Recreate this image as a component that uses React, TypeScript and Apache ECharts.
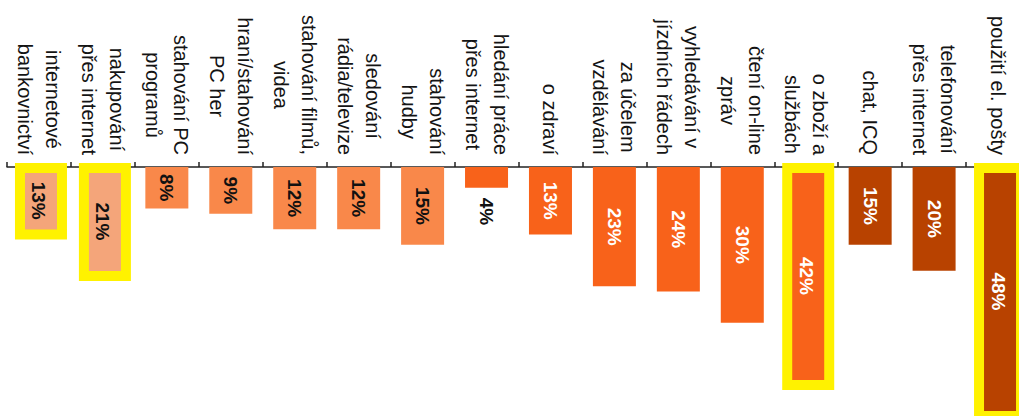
import React, { useEffect, useRef } from "react";
import * as echarts from "echarts";

const categories: string[] = [
  "internetové\nbankovnictví",
  "nakupování\npřes internet",
  "stahování PC\nprogramů",
  "hraní/stahování\nPC her",
  "stahování filmů,\nvidea",
  "sledování\nrádia/televize",
  "stahování\nhudby",
  "hledání práce\npřes internet",
  "o zdraví",
  "za účelem\nvzdělávání",
  "vyhledávání v\njízdních řádech",
  "čtení on-line\nzpráv",
  "o zboží a\nslužbách",
  "chat, ICQ",
  "telefonování\npřes internet",
  "použití el. pošty",
];

const values: number[] = [13, 21, 8, 9, 12, 12, 15, 4, 13, 23, 24, 30, 42, 15, 20, 48];

// colour group of each category (0 light, 1 mid, 2 vivid, 3 dark)
const colorGroup: number[] = [0, 0, 1, 1, 1, 1, 1, 2, 2, 2, 2, 2, 2, 3, 3, 3];
const highlighted: number[] = [0, 1, 12, 15];
const outsideLabel: number[] = [7];

const palette = ["#F4A57A", "#F9884A", "#F8621A", "#B84200"];
const labelColors = ["#111111", "#111111", "#FFFFFF", "#FFFFFF"];

const FONT = "'Liberation Sans', Arial, sans-serif";

export default function App() {
  const ref = useRef<HTMLDivElement>(null);

  useEffect(() => {
    if (!ref.current) return;
    const chart = echarts.init(ref.current, undefined, { renderer: "svg" });

    const data = values.map((v, i) => {
      const g = colorGroup[i];
      const isOut = outsideLabel.includes(i);
      return {
        value: v,
        itemStyle: { color: palette[g] },
        label: isOut
          ? {
              position: "bottom",
              distance: 10,
              align: "left",
              verticalAlign: "middle",
              color: "#111111",
            }
          : {
              position: "inside",
              color: labelColors[g],
            },
      };
    });

    const frameData = highlighted.map((i) => [i, values[i]]);

    chart.setOption({
      animation: false,
      backgroundColor: "#ffffff",
      grid: { left: 7, right: 0, top: 167, bottom: 0, containLabel: false },
      xAxis: {
        type: "category",
        position: "top",
        data: categories,
        boundaryGap: true,
        axisLine: { show: true, lineStyle: { color: "#222222", width: 1.5 } },
        axisTick: { show: true, length: 5, alignWithLabel: false, lineStyle: { color: "#222222", width: 1.5 } },
        axisLabel: {
          interval: 0,
          rotate: -90,
          margin: 12,
          formatter: (val: string) =>
            val
              .split("\n")
              .map((l) => `{c|${l}}`)
              .join("\n"),
          rich: {
            c: {
              align: "center",
              fontSize: 20,
              lineHeight: 28,
              color: "#141414",
              fontFamily: FONT,
            },
          },
        },
      },
      yAxis: {
        type: "value",
        inverse: true,
        min: 0,
        max: 48,
        show: false,
        splitLine: { show: false },
      },
      series: [
        {
          type: "bar",
          data,
          barWidth: 43,
          clip: false,
          z: 2,
          label: {
            show: true,
            rotate: -90,
            formatter: "{c}%",
            fontSize: 19,
            fontWeight: "bold",
            fontFamily: FONT,
          },
        },
        {
          type: "custom",
          data: frameData,
          clip: false,
          z: 3,
          silent: true,
          renderItem: (params: any, api: any) => {
            const base = api.coord([api.value(0), 0]);
            const end = api.coord([api.value(0), api.value(1)]);
            const w = 42;
            return {
              type: "rect",
              shape: {
                x: base[0] - w / 2 + 2,
                y: base[1] + 1,
                width: w,
                height: end[1] - base[1] - 1,
              },
              style: { fill: "none", stroke: "#FFF200", lineWidth: 10 },
            };
          },
        },
      ],
    });

    return () => chart.dispose();
  }, []);

  return (
    <div
      style={{
        position: "absolute",
        left: 0,
        top: 0,
        width: 1019,
        height: 416,
        overflow: "hidden",
        background: "#ffffff",
      }}
    >
      <div ref={ref} style={{ width: 1030, height: 416 }} />
    </div>
  );
}
